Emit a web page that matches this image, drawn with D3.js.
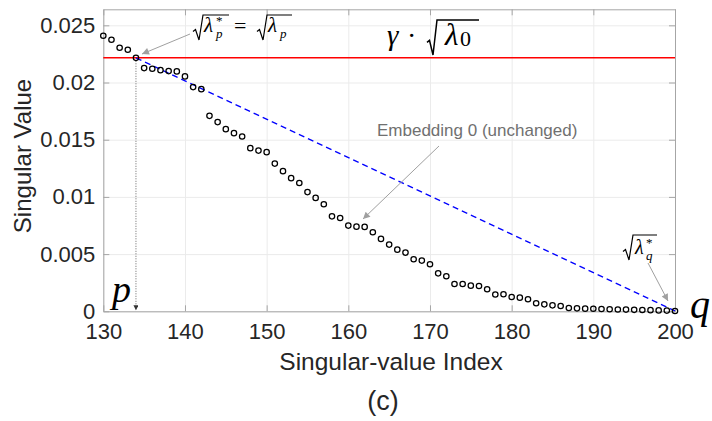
<!DOCTYPE html>
<html>
  <head>
    <meta charset="utf-8">
    <title>Singular values (c)</title>
    <style>
      body { margin: 0; background: #fff; }
      .tick text { font-family: 'Liberation Sans', Arial, sans-serif; font-size: 22px; fill: #262626; }
      .axis path, .axis line { stroke: #a6a6a6; }
      .grid line { stroke: #ebebeb; }
      .grid path { display: none; }
      .lbl { font-family: 'Liberation Sans', Arial, sans-serif; fill: #262626; }
      .math { font-family: 'Liberation Serif', 'Times New Roman', serif; fill: #000; }
    </style>
  </head>
  <body>
    <div id="chart"></div>
    <script src="https://cdn.jsdelivr.net/npm/d3@7"></script>
    <script>
      // singular values, index 130..200
      var startIndex = 130;
      var singularValues = [
        0.02409, 0.02374, 0.02304, 0.02286, 0.02216, 0.02126, 0.02120, 0.02108, 0.02100, 0.02097,
        0.02053, 0.01960, 0.01942, 0.01709, 0.01654, 0.01592, 0.01557, 0.01528, 0.01426, 0.01405,
        0.01391, 0.01291, 0.01225, 0.01164, 0.01122, 0.01042, 0.00991, 0.00936, 0.00830, 0.00816,
        0.00749, 0.00740, 0.00738, 0.00691, 0.00633, 0.00583, 0.00539, 0.00513, 0.00455, 0.00443,
        0.00411, 0.00332, 0.00306, 0.00239, 0.00239, 0.00224, 0.00221, 0.00193, 0.00147, 0.00149,
        0.00125, 0.00119, 0.00105, 0.00070, 0.00061, 0.00052, 0.00046, 0.00029, 0.00026, 0.00023,
        0.00022, 0.00020, 0.00018, 0.00016, 0.00015, 0.00013, 0.00011, 0.00010, 0.00008, 0.00006,
        0.00003
      ];
      var xTicks = [130, 140, 150, 160, 170, 180, 190, 200];
      var yTicks = [0, 0.005, 0.01, 0.015, 0.02, 0.025];
      var yTickLabels = ['0', '0.005', '0.01', '0.015', '0.02', '0.025'];
      var threshold = 0.02216;   // gamma * sqrt(lambda_0)
      var pIndex = 134;
      var qIndex = 200;

      var width = 712, height = 421;
      var margin = {left: 103.3, right: 37, top: 9.3, bottom: 109.7};
      var w = width - margin.left - margin.right;
      var h = height - margin.top - margin.bottom;

      var x = d3.scaleLinear().domain([130, 200]).range([0, w]);
      var y = d3.scaleLinear().domain([0, 0.0264]).range([h, 0]);

      var svg = d3.select('#chart').append('svg')
        .attr('width', width).attr('height', height);

      var defs = svg.append('defs');
      defs.append('marker').attr('id', 'arr')
        .attr('viewBox', '0 0 10 10').attr('refX', 10).attr('refY', 5)
        .attr('markerWidth', 9).attr('markerHeight', 7).attr('markerUnits', 'userSpaceOnUse')
        .attr('orient', 'auto')
        .append('path').attr('d', 'M0,0L10,5L0,10z').attr('fill', '#a0a0a0');
      defs.append('marker').attr('id', 'arrDark')
        .attr('viewBox', '0 0 10 10').attr('refX', 10).attr('refY', 5)
        .attr('markerWidth', 7).attr('markerHeight', 5).attr('markerUnits', 'userSpaceOnUse')
        .attr('orient', 'auto')
        .append('path').attr('d', 'M0,0L10,5L0,10z').attr('fill', '#333');

      var g = svg.append('g')
        .attr('transform', 'translate(' + margin.left + ',' + margin.top + ')');

      // grid
      g.append('g').attr('class', 'grid')
        .attr('transform', 'translate(0,' + h + ')')
        .call(d3.axisBottom(x).tickValues(xTicks).tickSize(-h).tickFormat(''));
      g.append('g').attr('class', 'grid')
        .call(d3.axisLeft(y).tickValues(yTicks).tickSize(-w).tickFormat(''));

      // box axes, ticks pointing inward
      g.append('g').attr('class', 'axis')
        .attr('transform', 'translate(0,' + h + ')')
        .call(d3.axisBottom(x).tickValues(xTicks).tickSizeInner(-6).tickSizeOuter(0).tickPadding(12));
      g.append('g').attr('class', 'axis')
        .call(d3.axisTop(x).tickValues(xTicks).tickSizeInner(-6).tickSizeOuter(0).tickFormat(''));
      g.append('g').attr('class', 'axis')
        .call(d3.axisLeft(y).tickValues(yTicks).tickSizeInner(-6).tickSizeOuter(0).tickPadding(8)
          .tickFormat(function(d, i) { return yTickLabels[i]; }));
      g.append('g').attr('class', 'axis')
        .attr('transform', 'translate(' + w + ',0)')
        .call(d3.axisRight(y).tickValues(yTicks).tickSizeInner(-6).tickSizeOuter(0).tickFormat(''));

      // threshold line
      g.append('line')
        .attr('x1', x(130)).attr('x2', x(200))
        .attr('y1', y(threshold)).attr('y2', y(threshold))
        .attr('stroke', '#ff0000').attr('stroke-width', 1.5);

      var pVal = singularValues[pIndex - startIndex];
      var qVal = singularValues[qIndex - startIndex];

      // dashed line from p to q
      g.append('line')
        .attr('x1', x(pIndex)).attr('y1', y(pVal))
        .attr('x2', x(qIndex)).attr('y2', y(qVal))
        .attr('stroke', '#0000ff').attr('stroke-width', 1.3)
        .attr('stroke-dasharray', '6,4');

      // dotted drop line at p
      g.append('line')
        .attr('x1', x(pIndex)).attr('y1', y(pVal) + 3)
        .attr('x2', x(pIndex)).attr('y2', y(0) - 1)
        .attr('stroke', '#666').attr('stroke-width', 1)
        .attr('stroke-dasharray', '1,1.5')
        .attr('marker-end', 'url(#arrDark)');

      // markers
      g.selectAll('circle.pt')
        .data(singularValues)
        .enter().append('circle')
        .attr('class', 'pt')
        .attr('cx', function(d, i) { return x(startIndex + i); })
        .attr('cy', function(d) { return y(d); })
        .attr('r', 2.7)
        .attr('fill', 'none')
        .attr('stroke', '#000')
        .attr('stroke-width', 1.25);

      // axis labels
      svg.append('text').attr('class', 'lbl')
        .attr('transform', 'translate(31,156) rotate(-90)')
        .attr('text-anchor', 'middle').style('font-size', '24px')
        .text('Singular Value');
      svg.append('text').attr('class', 'lbl')
        .attr('x', 391).attr('y', 370)
        .attr('text-anchor', 'middle').style('font-size', '24.5px')
        .text('Singular-value Index');
      svg.append('text').attr('class', 'lbl')
        .attr('x', 383).attr('y', 410)
        .attr('text-anchor', 'middle').style('font-size', '27px')
        .text('(c)');

      // radical sign helper (absolute page coords)
      function radical(x0, yBot, yTop, xEnd, sw) {
        var yMid = yBot - (yBot - yTop) * 0.42;
        var path = 'M' + x0 + ',' + (yMid + 2) +
          'L' + (x0 + 2.5) + ',' + yMid +
          'L' + (x0 + 6) + ',' + yBot +
          'L' + (x0 + 10) + ',' + yTop +
          'L' + xEnd + ',' + yTop;
        svg.append('path').attr('d', path)
          .attr('fill', 'none').attr('stroke', '#000').attr('stroke-width', sw || 1.2);
      }
      function mtext(tx, ty, size, str, italic) {
        return svg.append('text').attr('class', 'math')
          .attr('x', tx).attr('y', ty)
          .style('font-size', size + 'px')
          .style('font-style', italic ? 'italic' : 'normal')
          .text(str);
      }

      // sqrt(lambda_p^*) = sqrt(lambda_p)
      radical(193, 40, 15, 229);
      mtext(204, 32, 21, '\u03bb', true);
      mtext(216, 25, 13, '*', false);
      mtext(216, 38, 13, 'p', true);
      mtext(234, 33, 22, '=', false);
      radical(257, 40, 15, 292);
      mtext(268, 32, 21, '\u03bb', true);
      mtext(280, 38, 13, 'p', true);
      svg.append('line')
        .attr('x1', 190).attr('y1', 34).attr('x2', 142).attr('y2', 54)
        .attr('stroke', '#a0a0a0').attr('stroke-width', 1)
        .attr('marker-end', 'url(#arr)');

      // gamma * sqrt(lambda_0)
      mtext(387, 45, 29, '\u03b3', true);
      mtext(407, 45, 28, '\u00b7', false);
      radical(427, 55, 20, 479, 1.5);
      mtext(445, 45, 31, '\u03bb', true);
      mtext(460, 46, 22, '0', false);

      // sqrt(lambda_q^*)
      radical(623, 260, 235, 657);
      mtext(635, 254, 20, '\u03bb', true);
      mtext(646, 247, 13, '*', false);
      mtext(646, 260, 13, 'q', true);
      svg.append('line')
        .attr('x1', 648).attr('y1', 263).attr('x2', 668).attr('y2', 301)
        .attr('stroke', '#a0a0a0').attr('stroke-width', 1)
        .attr('marker-end', 'url(#arr)');

      // p and q labels
      mtext(112, 302, 38, 'p', true);
      mtext(690, 318, 40, 'q', true);

      // embedding annotation
      svg.append('text').attr('class', 'lbl')
        .attr('x', 377).attr('y', 136)
        .style('font-size', '17px').style('fill', '#707070')
        .text('Embedding 0 (unchanged)');
      svg.append('line')
        .attr('x1', 439).attr('y1', 146).attr('x2', 363).attr('y2', 219)
        .attr('stroke', '#a0a0a0').attr('stroke-width', 1)
        .attr('marker-end', 'url(#arr)');
    </script>
  </body>
</html>
